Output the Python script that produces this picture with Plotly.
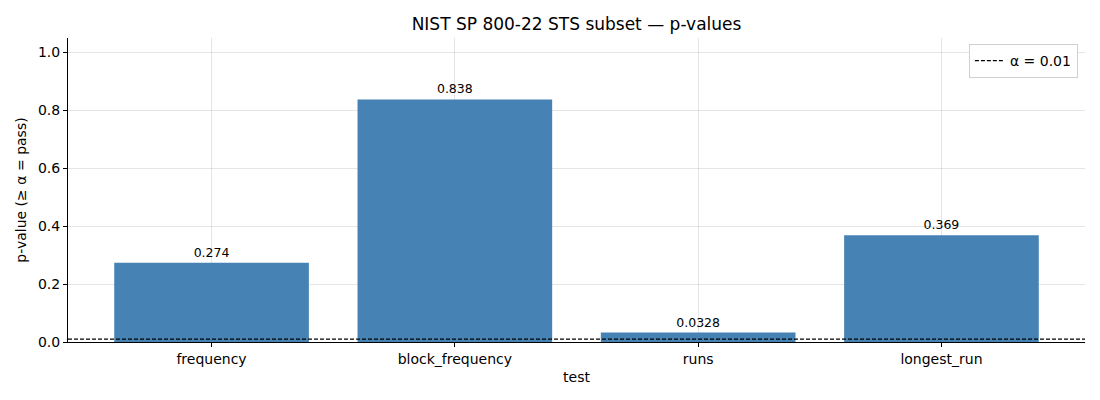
import plotly.graph_objects as go

# p-values per NIST STS test
tests = ["frequency", "block_frequency", "runs", "longest_run"]
p_values = [0.274, 0.838, 0.0328, 0.369]
p_labels = ["0.274", "0.838", "0.0328", "0.369"]
alpha = 0.01

BAR = "#4682b4"
FONT = "DejaVu Sans"

fig = go.Figure()

fig.add_trace(
    go.Bar(
        x=list(range(len(tests))),
        y=p_values,
        width=0.8,
        marker=dict(color=BAR, line=dict(width=0)),
        text=p_labels,
        textposition="outside",
        textfont=dict(size=12.5, color="black", family=FONT),
        cliponaxis=False,
        showlegend=False,
    )
)

# Significance threshold line
fig.add_trace(
    go.Scatter(
        x=[-0.59, 3.59],
        y=[alpha, alpha],
        mode="lines",
        line=dict(color="black", width=1.2, dash="4px,2px"),
        name="α = 0.01",
    )
)

fig.update_xaxes(
    title_text="test",
    title_font=dict(size=14),
    title_standoff=6,
    tickmode="array",
    tickvals=list(range(len(tests))),
    ticktext=tests,
    range=[-0.59, 3.59],
    showgrid=True,
    gridcolor="rgba(0,0,0,0.1)",
    showline=True,
    linecolor="black",
    linewidth=1,
    ticks="outside",
    ticklen=4,
    tickcolor="black",
    tickfont=dict(size=14),
    zeroline=False,
    layer="above traces",
)
fig.update_yaxes(
    title_text="p-value (≥ α = pass)",
    title_font=dict(size=14),
    title_standoff=8,
    range=[0, 1.05],
    tickvals=[0, 0.2, 0.4, 0.6, 0.8, 1.0],
    tickformat=".1f",
    showgrid=True,
    gridcolor="rgba(0,0,0,0.1)",
    showline=True,
    linecolor="black",
    linewidth=1,
    ticks="outside",
    ticklen=4,
    tickcolor="black",
    tickfont=dict(size=14),
    zeroline=False,
    layer="above traces",
)

fig.update_layout(
    title=dict(
        text="NIST SP 800-22 STS subset — p-values",
        xref="paper",
        x=0.5,
        xanchor="center",
        y=0.975,
        yanchor="top",
        font=dict(size=17, color="black"),
    ),
    font=dict(family=FONT, color="black"),
    width=1100,
    height=400,
    margin=dict(l=58, r=23, t=30, b=66),
    plot_bgcolor="white",
    paper_bgcolor="white",
    legend=dict(
        x=0.993,
        y=0.98,
        xanchor="right",
        yanchor="top",
        bgcolor="white",
        bordercolor="#d0d0d0",
        borderwidth=1,
        font=dict(size=14),
        itemwidth=30,
        tracegroupgap=0,
    ),
)

fig.write_html("out.html")
